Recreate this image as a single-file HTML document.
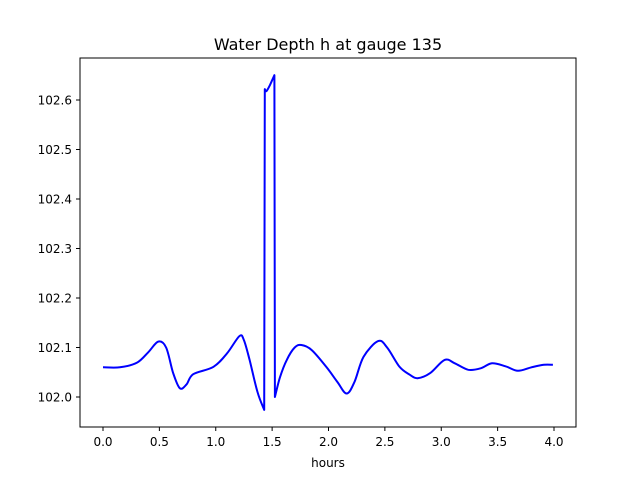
<!DOCTYPE html>
<html><head><meta charset="utf-8"><style>
body{margin:0;background:#fff;font-family:"DejaVu Sans","Liberation Sans",sans-serif}
</style></head><body>
<svg width="640" height="480" xmlns="http://www.w3.org/2000/svg">
<rect width="640" height="480" fill="#fff"/>
<text x="328" y="50" text-anchor="middle" font-size="16">Water Depth h at gauge 135</text>
<g id="xt"></g>
<g id="yt"></g>
<path id="line" fill="none" stroke="#0000ff" stroke-width="2" stroke-linejoin="round"/>
<rect x="80" y="58" width="496" height="369" fill="none" stroke="#000" stroke-width="1"/>
<text x="328" y="467" text-anchor="middle" font-size="12">hours</text>
</svg>
<script>
const hours=[0,0.15,0.30,0.40,0.49,0.56,0.62,0.68,0.74,0.80,0.98,1.10,1.21,1.25,1.30,1.37,1.43,1.435,1.45,1.48,1.52,1.525,1.57,1.63,1.70,1.76,1.85,1.98,2.08,2.16,2.23,2.31,2.44,2.52,2.63,2.72,2.79,2.90,3.03,3.12,3.24,3.35,3.45,3.57,3.68,3.80,3.91,3.99];
const depth=[102.060,102.060,102.069,102.090,102.112,102.100,102.050,102.018,102.025,102.046,102.061,102.088,102.123,102.115,102.075,102.010,101.974,102.622,102.618,102.630,102.650,102.000,102.040,102.075,102.100,102.105,102.095,102.061,102.030,102.007,102.030,102.081,102.113,102.100,102.061,102.045,102.038,102.048,102.075,102.068,102.055,102.058,102.068,102.062,102.053,102.060,102.065,102.065];
const xTicks=[0,0.5,1,1.5,2,2.5,3,3.5,4];
const yTicks=[102.0,102.1,102.2,102.3,102.4,102.5,102.6];
const X=t=>103+t*112.75, Y=v=>397-(v-102)*495;
const NS="http://www.w3.org/2000/svg";
const xt=document.getElementById('xt'), yt=document.getElementById('yt');
xTicks.forEach(t=>{
 const l=document.createElementNS(NS,'line');
 l.setAttribute('x1',X(t));l.setAttribute('x2',X(t));l.setAttribute('y1',427);l.setAttribute('y2',431);l.setAttribute('stroke','#000');
 
 
 xt.appendChild(l);
 const s=document.createElementNS(NS,'text');
 s.setAttribute('x',X(t));s.setAttribute('y',446);s.setAttribute('text-anchor','middle');s.setAttribute('font-size','12');
 s.textContent=t.toFixed(1);
 
 
 xt.appendChild(s);
});
yTicks.forEach(v=>{
 const l=document.createElementNS(NS,'line');
 l.setAttribute('x1',76);l.setAttribute('x2',80);l.setAttribute('y1',Y(v));l.setAttribute('y2',Y(v));l.setAttribute('stroke','#000');
 
 
 yt.appendChild(l);
 const s=document.createElementNS(NS,'text');
 s.setAttribute('x',72);s.setAttribute('y',Y(v)+4.5);s.setAttribute('text-anchor','end');s.setAttribute('font-size','12');
 s.textContent=v.toFixed(1);
 
 
 yt.appendChild(s);
});
// smooth path, straight across jumps
const P=hours.map((t,i)=>[X(t),Y(depth[i])]);
const isJump=i=>(hours[i+1]-hours[i])<0.012;
let d='M'+P[0][0].toFixed(1)+','+P[0][1].toFixed(1);
for(let i=0;i<P.length-1;i++){
 const p1=P[i],p2=P[i+1];
 if(isJump(i)){d+='L'+p2[0].toFixed(1)+','+p2[1].toFixed(1);continue;}
 const p0=(i>0&&!isJump(i-1))?P[i-1]:p1;
 const p3=(i+2<P.length&&!isJump(i+1))?P[i+2]:p2;
 const c1=[p1[0]+(p2[0]-p0[0])/6,p1[1]+(p2[1]-p0[1])/6];
 const c2=[p2[0]-(p3[0]-p1[0])/6,p2[1]-(p3[1]-p1[1])/6];
 d+='C'+c1.map(v=>v.toFixed(1)).join(',')+' '+c2.map(v=>v.toFixed(1)).join(',')+' '+p2.map(v=>v.toFixed(1)).join(',');
}
document.getElementById('line').setAttribute('d',d);
</script>
</body></html>
